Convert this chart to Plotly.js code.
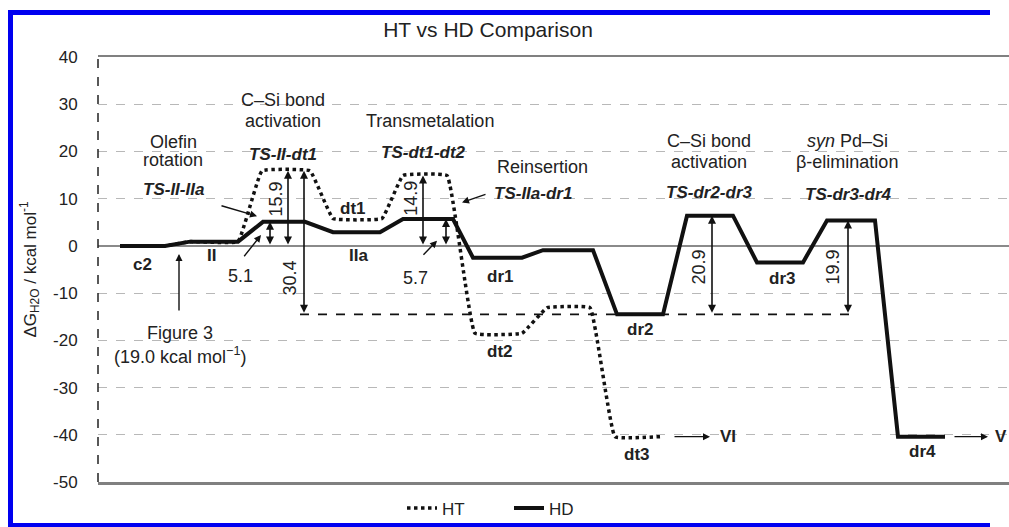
<!DOCTYPE html>
<html><head><meta charset="utf-8">
<script src="https://cdn.plot.ly/plotly-3.0.1.min.js"></script>
<style>html,body{margin:0;padding:0;background:#fff;overflow:hidden;}#wrap{position:relative;width:1009px;height:527px;overflow:hidden;}#chart{width:1009px;height:527px;}
#frame{position:absolute;left:8px;top:10px;width:977px;height:508px;border-left:5px solid #0000f0;border-top:5px solid #0000f0;border-bottom:4px solid #0000f0;pointer-events:none;}</style>
</head><body><div id="wrap"><div id="chart"></div><div id="frame"></div></div>
<script>
// Reaction-coordinate positions and free energies (kcal/mol)
const hdX = [120,165,190,238,263,305,333,380,403,453,473,522,543,593,617,663,687,733,757,803,827,875,898,945];
const hdY = [0,0,0.9,0.9,5.1,5.1,2.9,2.9,5.7,5.7,-2.5,-2.5,-0.9,-0.9,-14.5,-14.5,6.4,6.4,-3.5,-3.5,5.4,5.4,-40.4,-40.4];
const htX = [120,165,190,238,262,310,333,382,403,447,475,522,547,590,615,660];
const htY = [0,0,0.9,0.9,15.9,15.9,5.8,5.8,14.9,14.9,-18.5,-18.5,-13.1,-13.1,-40.4,-40.4];
const seriesNames = ['HT','HD'];
const yTicks = [40,30,20,10,0,-10,-20,-30,-40,-50];

// species labels [text, x, y]
const speciesLabels = [
  ['c2',142,-4],['II',211,-2.1],['IIa',358,-2.1],['dt1',353,7.9],['dr1',500,-6.5],
  ['dt2',500,-22.3],['dr2',640,-17.7],['dt3',637,-44.2],['dr3',782,-6.9],['dr4',922,-43.5],
  ['VI',728,-40.4]
];
// process labels [text, x, y]
const processLabels = [
  ['Olefin',173,21.9],['rotation',173,18.1],
  ['C–Si bond',283,30.8],['activation',283,26.5],
  ['Transmetalation',430,26.5],['Reinsertion',542,16.7],
  ['C–Si bond',709,22.3],['activation',709,17.7],
  ['<i>syn</i> Pd–Si',847,22.3],['β-elimination',847,17.7]
];
const tsLabels = [
  ['TS-II-IIa',173,12.0],['TS-II-dt1',283,19.4],['TS-dt1-dt2',423,19.8],
  ['TS-IIa-dr1',533,11.2],['TS-dr2-dr3',709,11.4],['TS-dr3-dr4',848,10.8]
];
// energy-gap arrows [label, x, from, to, labelX, labelY, rotated]
const gaps = [
  ['5.1',270,0,5.1,240,-6.4,false],
  ['15.9',288,0,15.9,276,9.8,true],
  ['30.4',304,-14.5,15.9,290,-6.9,true],
  ['14.9',423,0,14.9,411,10.0,true],
  ['5.7',446,0,5.7,415,-6.7,false],
  ['20.9',712,-14.5,6.4,699,-4.6,true],
  ['19.9',848,-14.5,5.4,833,-4.6,true]
];
// pointer arrows [tailX, tailY, headX, headY]
const pointers = [
  [243,-2.5,261,2.3],[220,8.6,257,6.3],[422,-2.2,437,1.1],[487,11.0,462,9.2],
  [179,-14,179,-1.7],[673,-40.4,710,-40.4],[953,-40.4,988,-40.4]
];
const refLevel = -14.5;

const txt = '#222';
const font = 'Liberation Sans, Arial, sans-serif';
const annotations = [];
speciesLabels.forEach(([t,x,y])=>annotations.push({text:'<b>'+t+'</b>',x,y,xref:'x',yref:'y',showarrow:false,font:{size:17,color:txt}}));
annotations.push({text:'<b>V</b>',x:993,y:-40.4,xref:'x',yref:'y',xanchor:'left',showarrow:false,font:{size:17,color:txt}});
processLabels.forEach(([t,x,y])=>annotations.push({text:t,x,y,xref:'x',yref:'y',showarrow:false,font:{size:18,color:txt}}));
tsLabels.forEach(([t,x,y])=>annotations.push({text:'<b><i>'+t+'</i></b>',x,y,xref:'x',yref:'y',showarrow:false,font:{size:17,color:txt}}));
annotations.push({text:'Figure 3',x:180,y:-18.4,xref:'x',yref:'y',showarrow:false,font:{size:18,color:txt}});
annotations.push({text:'(19.0 kcal mol<sup>−1</sup>)',x:180,y:-23.2,xref:'x',yref:'y',showarrow:false,font:{size:18,color:txt}});
gaps.forEach(([t,x,a,b,lx,ly,rot])=>{
  annotations.push({text:'',x,y:b,ax:x,ay:a,xref:'x',yref:'y',axref:'x',ayref:'y',showarrow:true,arrowside:'end+start',arrowhead:2,arrowsize:1,arrowwidth:1.6,arrowcolor:'#111'});
  annotations.push({text:t,x:lx,y:ly,xref:'x',yref:'y',showarrow:false,textangle:rot?-90:0,font:{size:18,color:txt}});
});
pointers.forEach(([tx,ty,hx,hy])=>annotations.push({text:'',x:hx,y:hy,ax:tx,ay:ty,xref:'x',yref:'y',axref:'x',ayref:'y',showarrow:true,arrowhead:2,arrowsize:1,arrowwidth:1.4,arrowcolor:'#111'}));

const L=98,R=1009,T=57,B=490;
const px = v=>(v-L)/(R-L), py = v=>(B-v)/(B-T);
const shapes = [
  {type:'line',xref:'x',yref:'y',x0:300,x1:852,y0:refLevel,y1:refLevel,line:{color:'#111',width:1.6,dash:'dash'}},
  {type:'line',xref:'paper',yref:'paper',x0:0,x1:0,y0:0,y1:1,line:{color:'#222',width:1.5,dash:'dash'}}
];

const traces = [
  {x:htX,y:htY,name:seriesNames[0],mode:'lines',line:{color:'#111',width:3.5,dash:'dot',shape:'spline',smoothing:0.25}},
  {x:hdX,y:hdY,name:seriesNames[1],mode:'lines',line:{color:'#111',width:4}}
];

const layout = {
  width:1009,height:527,margin:{l:L,r:0,t:T,b:527-B},
  paper_bgcolor:'#fff',plot_bgcolor:'#fff',
  font:{family:font,color:txt,size:17},
  title:{text:'HT vs HD Comparison',x:488/1009,xref:'container',xanchor:'center',y:1-30/527,yanchor:'middle',font:{size:21,color:txt}},
  xaxis:{range:[L,R],showgrid:false,zeroline:false,showticklabels:false,ticks:'',showline:true,mirror:true,linecolor:'#808080',linewidth:2.5,fixedrange:true},
  yaxis:{range:[-50,40],tickvals:yTicks,ticktext:yTicks.map(String),showgrid:true,gridcolor:'#b8b8b8',griddash:'dash',gridwidth:1,
    zeroline:true,zerolinecolor:'#8a8a8a',zerolinewidth:1.5,showline:false,ticks:'outside',ticklen:16,tickcolor:'rgba(0,0,0,0)',
    tickfont:{size:17,color:txt},
    title:{text:'ΔG<sub>H2O</sub> / kcal mol<sup>-1</sup>',font:{size:17,color:txt},standoff:12}},
  showlegend:true,
  legend:{orientation:'h',x:px(402),xanchor:'left',y:py(517),yanchor:'middle',font:{size:17,color:txt},bgcolor:'rgba(0,0,0,0)',entrywidth:62,entrywidthmode:'pixels'},
  annotations,shapes
};
Plotly.newPlot('chart',traces,layout,{displayModeBar:false,staticPlot:true});
</script></body></html>
